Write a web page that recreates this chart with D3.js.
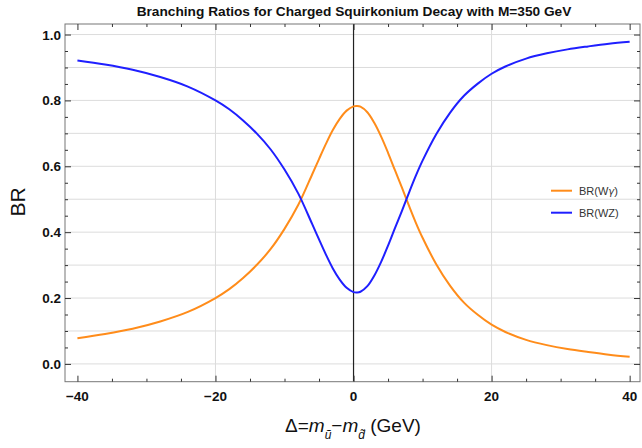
<!DOCTYPE html>
<html><head><meta charset="utf-8">
<script src="https://cdn.jsdelivr.net/npm/d3@7"></script>
<style>body{margin:0;background:#fff}svg{display:block}</style>
</head><body>
<script>
const titleText = "Branching Ratios for Charged Squirkonium Decay with M=350 GeV";
const deltaValues = [-40,-36,-32,-28,-24,-20,-18,-16,-14,-12,-10,-8,-6,-5,-4,-3,-2,-1,0,0.5,1,2,3,4,5,6,7,8,9,10,12,14,16,18,20,22,25,28,31,34,37,40];
const brWgamma = [0.078,0.091,0.107,0.129,0.158,0.200,0.227,0.261,0.301,0.349,0.410,0.483,0.575,0.622,0.668,0.710,0.744,0.769,0.782,0.783,0.781,0.764,0.732,0.690,0.641,0.588,0.536,0.482,0.430,0.383,0.302,0.237,0.186,0.149,0.119,0.097,0.073,0.057,0.045,0.036,0.028,0.022];
const brWZ = [0.921,0.909,0.893,0.871,0.842,0.800,0.773,0.739,0.699,0.651,0.590,0.517,0.425,0.378,0.332,0.290,0.256,0.231,0.218,0.217,0.219,0.236,0.268,0.310,0.359,0.412,0.464,0.518,0.570,0.617,0.698,0.763,0.814,0.851,0.881,0.903,0.927,0.943,0.955,0.964,0.972,0.978];
const seriesNames = [["BR(W","\u03b3",")"],["BR(WZ)","",""]];
const seriesColors = ["#ff8c1a","#1f1fff"];
const xMajorTicks = [-40,-20,0,20,40];
const yMajorTicks = [0,0.2,0.4,0.6,0.8,1.0];

const W=642,H=448;
const svg=d3.select("body").append("svg").attr("width",W).attr("height",H);
const x=d3.scaleLinear().domain([-41.8,41.5]).range([65,640]);
const y=d3.scaleLinear().domain([-0.054,1.032]).range([381.7,24]);
const font="'Liberation Sans', Arial, Helvetica, sans-serif";

svg.append("g").selectAll("line").data(d3.range(0,1.01,0.1)).join("line")
  .attr("x1",65).attr("x2",640).attr("y1",d=>y(d)).attr("y2",d=>y(d))
  .attr("stroke","#dcdcdc").attr("stroke-width",1);
svg.append("g").selectAll("line").data([-20,20]).join("line")
  .attr("y1",24).attr("y2",381.7).attr("x1",d=>x(d)).attr("x2",d=>x(d))
  .attr("stroke","#dcdcdc").attr("stroke-width",1);
svg.append("line").attr("x1",x(0)).attr("x2",x(0)).attr("y1",24).attr("y2",381.7).attr("stroke","#222").attr("stroke-width",1.2);

svg.append("rect").attr("x",65).attr("y",24).attr("width",575).attr("height",357.7)
  .attr("fill","none").attr("stroke","#777").attr("stroke-width",1);

const xMinor=d3.range(-40,41,5).filter(v=>!xMajorTicks.includes(v));
const yMinor=d3.range(0,1.001,0.05).map(v=>+v.toFixed(2)).filter(v=>!yMajorTicks.some(t=>Math.abs(t-v)<1e-9));
function styleAxis(g){g.select(".domain").remove();g.selectAll(".tick line").attr("stroke","#333");}
svg.append("g").attr("transform","translate(0,381.7)").call(d3.axisTop(x).tickValues(xMajorTicks).tickSize(6).tickFormat("")).call(styleAxis);
svg.append("g").attr("transform","translate(0,381.7)").call(d3.axisTop(x).tickValues(xMinor).tickSize(3).tickFormat("")).call(styleAxis);
svg.append("g").attr("transform","translate(0,24)").call(d3.axisBottom(x).tickValues(xMajorTicks).tickSize(6).tickFormat("")).call(styleAxis);
svg.append("g").attr("transform","translate(0,24)").call(d3.axisBottom(x).tickValues(xMinor).tickSize(3).tickFormat("")).call(styleAxis);
svg.append("g").attr("transform","translate(65,0)").call(d3.axisRight(y).tickValues(yMajorTicks).tickSize(6).tickFormat("")).call(styleAxis);
svg.append("g").attr("transform","translate(65,0)").call(d3.axisRight(y).tickValues(yMinor).tickSize(3).tickFormat("")).call(styleAxis);
svg.append("g").attr("transform","translate(640,0)").call(d3.axisLeft(y).tickValues(yMajorTicks).tickSize(6).tickFormat("")).call(styleAxis);
svg.append("g").attr("transform","translate(640,0)").call(d3.axisLeft(y).tickValues(yMinor).tickSize(3).tickFormat("")).call(styleAxis);

svg.append("g").selectAll("text").data(xMajorTicks).join("text")
  .attr("x",d=>x(d)).attr("y",401).attr("text-anchor","middle")
  .attr("font-family",font).attr("font-weight","bold").attr("font-size",13.5).attr("fill","#111")
  .text(d=>d<0?"\u2212"+Math.abs(d):String(d));
svg.append("g").selectAll("text").data(yMajorTicks).join("text")
  .attr("x",61).attr("y",d=>y(d)+5).attr("text-anchor","end")
  .attr("font-family",font).attr("font-weight","bold").attr("font-size",13.5).attr("fill","#111")
  .text(d=>d.toFixed(1));

const line=d3.line().x(d=>x(d[0])).y(d=>y(d[1])).curve(d3.curveCatmullRom.alpha(0.5));
[brWgamma,brWZ].forEach((vals,i)=>{
  svg.append("path").datum(deltaValues.map((d,j)=>[d,vals[j]]))
    .attr("d",line).attr("fill","none").attr("stroke",seriesColors[i]).attr("stroke-width",2);
});

seriesNames.forEach((n,i)=>{
  const ly=190.7+i*22;
  svg.append("line").attr("x1",551).attr("x2",572).attr("y1",ly).attr("y2",ly).attr("stroke",seriesColors[i]).attr("stroke-width",2);
  const t=svg.append("text").attr("x",579).attr("y",ly+4).attr("font-family",font).attr("font-size",11).attr("fill","#333");
  t.append("tspan").text(n[0]);
  if(n[1]) t.append("tspan").attr("font-style","italic").attr("font-family","'DejaVu Sans', sans-serif").attr("font-size",10).text(n[1]);
  if(n[2]) t.append("tspan").text(n[2]);
});

svg.append("text").attr("x",354).attr("y",16).attr("text-anchor","middle")
  .attr("font-family",font).attr("font-weight","bold").attr("font-size",13.7).attr("fill","#111").text(titleText);

svg.append("text").attr("transform","translate(25,202) rotate(-90)").attr("text-anchor","middle")
  .attr("font-family",font).attr("font-size",21).attr("fill","#111").text("BR");

const xl=svg.append("text").attr("x",353).attr("y",432).attr("text-anchor","middle")
  .attr("font-family",font).attr("font-size",19).attr("fill","#111");
xl.append("tspan").text("\u0394=");
xl.append("tspan").attr("font-style","italic").text("m");
xl.append("tspan").attr("font-style","italic").attr("font-size",12).attr("dy",7).text("\u0169");
xl.append("tspan").attr("dy",-7).text("\u2212");
xl.append("tspan").attr("font-style","italic").text("m");
xl.append("tspan").attr("font-style","italic").attr("font-size",12).attr("dy",7).text("d\u0303");
xl.append("tspan").attr("dy",-7).text(" (GeV)");
</script>
</body></html>
